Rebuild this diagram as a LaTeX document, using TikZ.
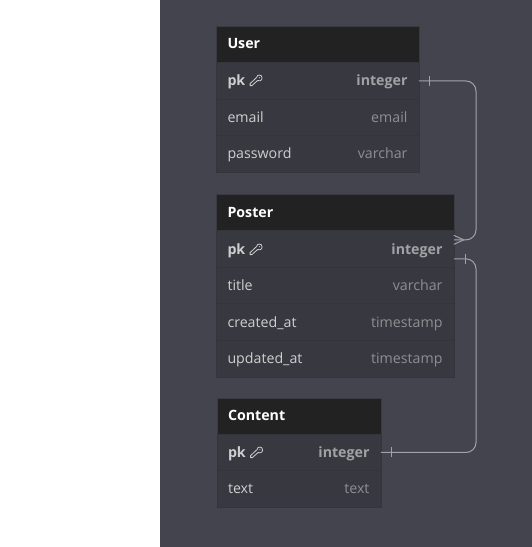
\documentclass[tikz,border=0pt]{standalone}
\usepackage{fontspec}
\setmainfont{Open Sans}
\definecolor{bgdark}{HTML}{44444E}
\definecolor{rowfill}{HTML}{383840}
\definecolor{rowsep}{HTML}{34343B}
\definecolor{headfill}{HTML}{222222}
\definecolor{tblborder}{HTML}{3A3A42}
\definecolor{nametxt}{HTML}{CFCFCF}
\definecolor{typetxt}{HTML}{8E8E92}
\definecolor{pktype}{HTML}{A2A2A6}
\definecolor{linkcol}{HTML}{A2A2AA}
\tikzset{
  headbox/.style={draw=tblborder,line width=0.6pt,fill=headfill,inner sep=0pt,outer sep=0pt,minimum height=36pt,anchor=north west},
  rowbox/.style={draw=rowsep,line width=0.6pt,fill=rowfill,inner sep=0pt,outer sep=0pt,anchor=north west},
  headtxt/.style={text=white,font=\fontsize{14.2}{14.2}\selectfont\bfseries,anchor=base west,inner sep=0pt},
  nametx/.style={text=nametxt,font=\fontsize{14.2}{14.2}\selectfont,anchor=base west,inner sep=0pt},
  typetx/.style={text=typetxt,font=\fontsize{14.2}{14.2}\selectfont,anchor=base east,inner sep=0pt},
  pktx/.style={text=nametxt,font=\fontsize{14.2}{14.2}\selectfont\bfseries,anchor=base west,inner sep=0pt},
  pktypetx/.style={text=pktype,font=\fontsize{14.2}{14.2}\selectfont\bfseries,anchor=base east,inner sep=0pt},
  conn/.style={draw=linkcol,line width=1pt,rounded corners=10pt},
  tick/.style={draw=linkcol,line width=1pt},
  keyicon/.style={draw=nametxt,line width=0.8pt,line cap=round,line join=round}
}
\newcommand{\keyat}[2]{%
  \begin{scope}[shift={(#1,#2)}]
    \draw[keyicon] (1.2,-2.6) .. controls (1.2,-5.8) and (6.6,-5.8) .. (6.6,-2.2) .. controls (6.6,0.8) and (3.4,1.6) .. (2,0.6) -- (-3.6,5.6) -- (-5.4,5.6) -- (-5.4,3.6) -- (1.2,-2.6);
    \fill[nametxt] (3.9,-2.3) circle (0.6);
  \end{scope}}
\begin{document}
\begin{tikzpicture}[x=1pt,y=-1pt]
\useasboundingbox (0,0) rectangle (532,547);
\fill[white] (0,0) rectangle (160,547);
\fill[bgdark] (160,0) rectangle (532,547);

% User
\node[headbox,minimum width=202.5pt] (userhead) at (216.3,26.6) {};
\node[rowbox,minimum width=202.5pt,minimum height=36.5pt] (userpk) at (216.3,62.6) {};
\node[rowbox,minimum width=202.5pt,minimum height=36.5pt] (useremail) at (216.3,99.1) {};
\node[rowbox,minimum width=202.5pt,minimum height=37pt] (userpass) at (216.3,135.6) {};
\node[headtxt] (tUser) at (227.3,48) {User};
\node[pktx] (tUpk) at (227.3,85) {pk};
\keyat{255.5}{80}
\node[pktypetx] (tUint) at (407.7,85) {integer};
\node[nametx] (tUe) at (227.3,122) {email};
\node[typetx] (tUet) at (407.7,122) {email};
\node[nametx] (tUp) at (227.3,158) {password};
\node[typetx] (tUpt) at (407.7,158) {varchar};

% Poster
\node[headbox,minimum width=237.5pt] (posthead) at (216.3,194.6) {};
\node[rowbox,minimum width=237.5pt,minimum height=36.5pt] (postpk) at (216.3,230.6) {};
\node[rowbox,minimum width=237.5pt,minimum height=36.5pt] (posttitle) at (216.3,267.1) {};
\node[rowbox,minimum width=237.5pt,minimum height=36.5pt] (postcreated) at (216.3,303.6) {};
\node[rowbox,minimum width=237.5pt,minimum height=37.5pt] (postupdated) at (216.3,340.1) {};
\node[headtxt] (tPoster) at (227.3,217) {Poster};
\node[pktx] (tPpk) at (227.3,254) {pk};
\keyat{255.5}{249}
\node[pktypetx] (tPint) at (442.7,254) {integer};
\node[nametx] (tPt) at (227.3,290) {title};
\node[typetx] (tPtt) at (442.7,290) {varchar};
\node[nametx] (tPc) at (227.3,327) {created\_at};
\node[typetx] (tPct) at (442.7,327) {timestamp};
\node[nametx] (tPu) at (227.3,363) {updated\_at};
\node[typetx] (tPut) at (442.7,363) {timestamp};

% Content
\node[headbox,minimum width=164pt] (conthead) at (216.8,398.1) {};
\node[rowbox,minimum width=164pt,minimum height=36.5pt] (contpk) at (216.8,434.1) {};
\node[rowbox,minimum width=164pt,minimum height=37pt] (conttext) at (216.8,470.6) {};
\node[headtxt] (tContent) at (227.8,420) {Content};
\node[pktx] (tCpk) at (227.8,457) {pk};
\keyat{256}{452}
\node[pktypetx] (tCint) at (369.7,457) {integer};
\node[nametx] (tCt) at (227.8,493) {text};
\node[typetx] (tCtt) at (369.7,493) {text};

% Connectors
\coordinate (busTop) at (476,81);
\coordinate (busBot) at (476,452.5);
\coordinate (postIn) at ([yshift=9pt]postpk.east);
\coordinate (postOut) at ([yshift=-10pt]postpk.east);
\draw[conn] (userpk.east) -- (busTop) |- (postIn);
\draw[conn] (postOut) -| (busBot) -- (contpk.east);
% one-side ticks
\draw[tick] ([xshift=10.7pt,yshift=5pt]userpk.east) -- ([xshift=10.7pt,yshift=-5pt]userpk.east);
\draw[tick] ([xshift=11.5pt,yshift=5pt]postOut) -- ([xshift=11.5pt,yshift=-5pt]postOut);
\draw[tick] ([xshift=11pt,yshift=5pt]contpk.east) -- ([xshift=11pt,yshift=-5pt]contpk.east);
% crow's foot
\draw[tick] ([yshift=4.5pt]postIn) -- ([xshift=10pt]postIn) -- ([yshift=-4.5pt]postIn);
\end{tikzpicture}
\end{document}
